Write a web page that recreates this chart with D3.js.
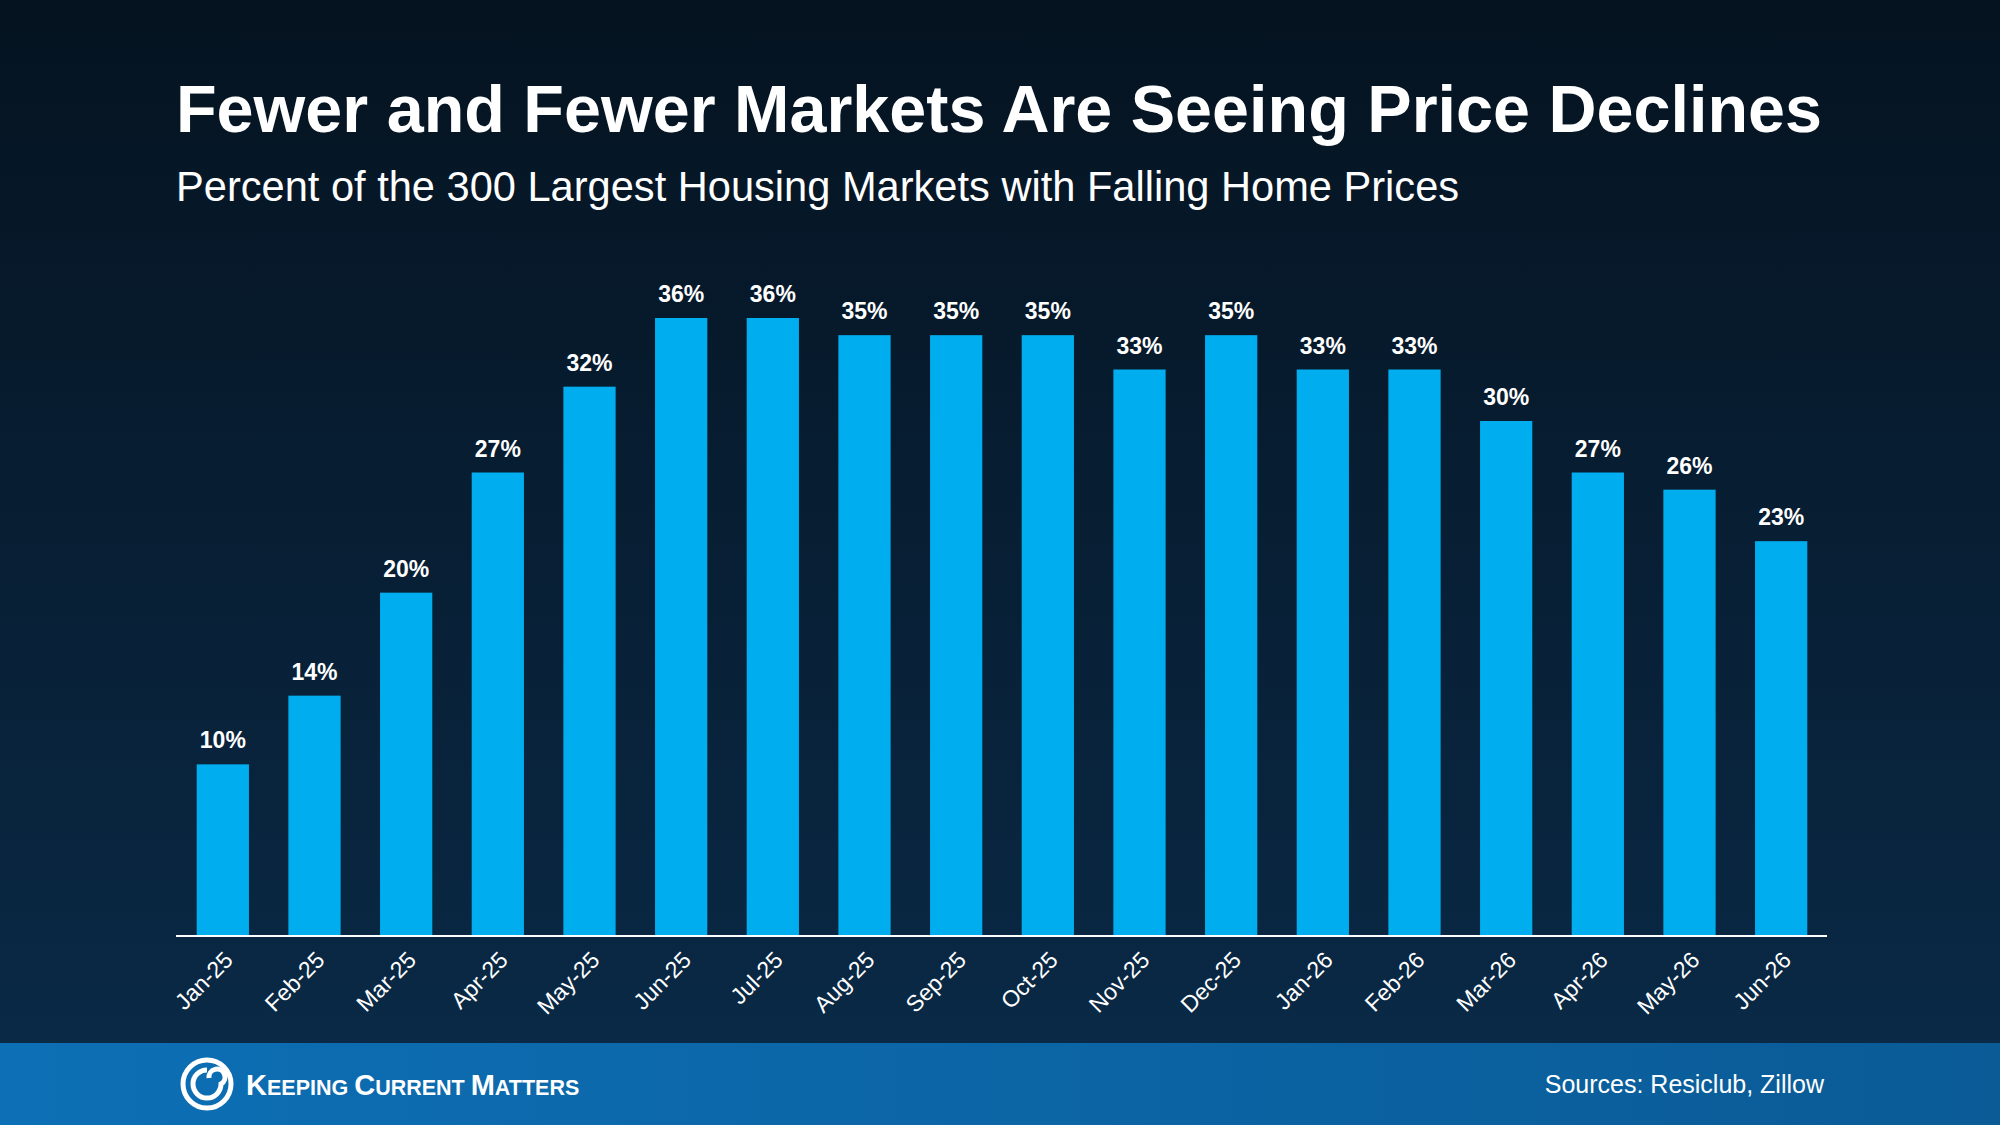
<!DOCTYPE html>
<html><head><meta charset="utf-8">
<script src="https://cdn.jsdelivr.net/npm/d3@7"></script>
<style>body{margin:0;background:#061526}svg{display:block}</style>
</head><body><svg id="c" width="2000" height="1125"></svg>
<script>
const categories=["Jan-25","Feb-25","Mar-25","Apr-25","May-25","Jun-25","Jul-25","Aug-25","Sep-25","Oct-25","Nov-25","Dec-25","Jan-26","Feb-26","Mar-26","Apr-26","May-26","Jun-26"];
const values=[10,14,20,27,32,36,36,35,35,35,33,35,33,33,30,27,26,23];
const title="Fewer and Fewer Markets Are Seeing Price Declines";
const subtitle="Percent of the 300 Largest Housing Markets with Falling Home Prices";
const source="Sources: Resiclub, Zillow";

const svg=d3.select("#c");
const defs=svg.append("defs");
const bg=defs.append("linearGradient").attr("id","bg").attr("x1",0).attr("y1",0).attr("x2",0).attr("y2",1);
bg.append("stop").attr("offset",0).attr("stop-color","#051320");
bg.append("stop").attr("offset",1).attr("stop-color","#0a2b49");
const fg=defs.append("linearGradient").attr("id","fg").attr("x1",0).attr("y1",0).attr("x2",1).attr("y2",0);
fg.append("stop").attr("offset",0).attr("stop-color","#0d6fb5");
fg.append("stop").attr("offset",1).attr("stop-color","#0a5b96");
svg.append("rect").attr("width",2000).attr("height",1125).attr("fill","url(#bg)");

svg.append("text").attr("x",176).attr("y",132).attr("fill","#fff").attr("font-family","Liberation Sans, Arial").attr("font-weight","bold").attr("font-size",66.5).text(title);
svg.append("text").attr("x",176).attr("y",201).attr("fill","#fff").attr("font-family","Liberation Sans, Arial").attr("font-size",41.6).text(subtitle);

const x=d3.scaleBand().domain(categories).range([177,1827]).padding(0.43).paddingOuter(0.215);
const y=d3.scaleLinear().domain([0,36]).range([936,318]);

svg.selectAll(".bar").data(values).join("rect")
 .attr("x",(d,i)=>x(categories[i])).attr("width",x.bandwidth())
 .attr("y",d=>y(d)).attr("height",d=>y(0)-y(d)).attr("fill","#00adef");
svg.selectAll(".lbl").data(values).join("text")
 .attr("x",(d,i)=>x(categories[i])+x.bandwidth()/2).attr("y",d=>y(d)-16)
 .attr("text-anchor","middle").attr("fill","#fff").attr("font-family","Liberation Sans, Arial").attr("font-weight","bold").attr("font-size",23)
 .text(d=>d+"%");

const ax=svg.append("g").attr("transform","translate(0,936)").call(d3.axisBottom(x).tickSize(0).tickPadding(14));
ax.select(".domain").attr("stroke","#fff").attr("stroke-width",2).attr("d","M176,0H1827");
ax.selectAll("text").attr("fill","#fff").attr("font-family","Liberation Sans, Arial").attr("font-size",23)
 .attr("text-anchor","end").attr("transform","translate(-10,4) rotate(-45)");

svg.append("rect").attr("y",1043).attr("width",2000).attr("height",82).attr("fill","url(#fg)");
const lg=svg.append("g").attr("transform","translate(207,1084)");
lg.append("circle").attr("r",24).attr("fill","none").attr("stroke","#fff").attr("stroke-width",5);
lg.append("path").attr("d","M0,-14 A14,14 0 1,0 14,0 A8,8 0 1,0 2,-6").attr("fill","none").attr("stroke","#fff").attr("stroke-width",5);
const lt=svg.append("text").attr("x",246).attr("y",1095).attr("fill","#fff").attr("font-family","Liberation Sans, Arial").attr("font-weight","bold").attr("font-size",21.5);
[["K","EEPING "],["C","URRENT "],["M","ATTERS"]].forEach(([a,b])=>{lt.append("tspan").attr("font-size",29).text(a);lt.append("tspan").text(b);});
svg.append("text").attr("x",1824).attr("y",1093).attr("text-anchor","end").attr("fill","#fff").attr("font-family","Liberation Sans, Arial").attr("font-size",25).text(source);
</script></body></html>
